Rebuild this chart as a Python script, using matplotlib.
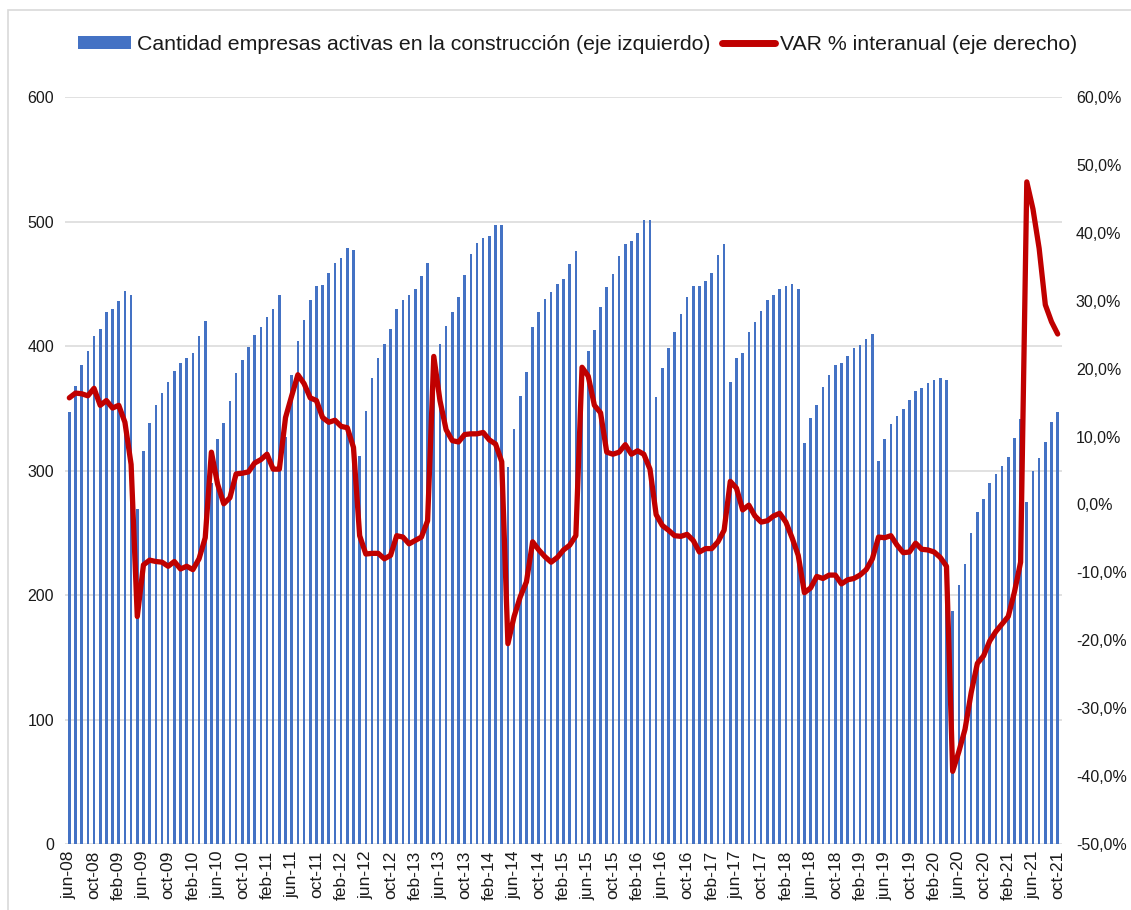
import numpy as np
import matplotlib
matplotlib.use('Agg')
import matplotlib.pyplot as plt
from matplotlib.patches import Patch, Rectangle
from matplotlib.lines import Line2D
from matplotlib.ticker import FuncFormatter

plt.rcParams['font.family'] = ['Liberation Sans', 'DejaVu Sans']

# empresas activas (jun-08 .. oct-21), one value per month
empresas = [
    347, 368, 385, 396, 408, 414, 427, 430, 436, 444, 441,
    269, 316, 338, 353, 362, 371, 380, 386, 390, 394, 408, 420,
    290, 325, 338, 356, 378, 389, 399, 409, 415, 423, 430, 441,
    327, 377, 404, 421, 437, 448, 449, 459, 467, 471, 479, 477,
    312, 348, 374, 390, 402, 414, 430, 437, 441, 446, 456, 467,
    380, 402, 416, 427, 439, 457, 474, 483, 487, 488, 497, 497,
    303, 333, 360, 379, 415, 427, 438, 443, 450, 454, 466, 476,
    366, 396, 413, 431, 447, 458, 472, 482, 484, 491, 501, 501,
    359, 382, 398, 411, 426, 439, 448, 448, 452, 459, 473, 482,
    371, 390, 394, 411, 419, 428, 437, 441, 446, 448, 450, 446,
    322, 342, 353, 367, 377, 385, 386, 392, 398, 401, 406, 410,
    308, 325, 337, 344, 349, 357, 364, 366, 370, 373, 374, 373,
    187, 208, 225, 250, 267, 277, 290, 297, 304, 311, 326, 341,
    275, 300, 310, 323, 339, 347,
]

# variacion % interanual
var_pct = [
    15.7, 16.4, 16.3, 16.0, 17.1, 14.6, 15.3, 14.2, 14.6, 12.1, 5.9,
    -16.5, -8.9, -8.2, -8.4, -8.5, -9.1, -8.4, -9.5, -9.1, -9.6, -8.0, -4.9,
    7.7, 3.0, 0.1, 1.0, 4.5, 4.6, 4.8, 6.1, 6.6, 7.4, 5.2, 5.2,
    12.8, 16.0, 19.1, 17.8, 15.7, 15.3, 12.8, 12.1, 12.4, 11.5, 11.3, 8.4,
    -4.6, -7.3, -7.2, -7.2, -8.0, -7.5, -4.6, -4.8, -5.8, -5.3, -4.8, -2.4,
    21.8, 15.3, 11.0, 9.4, 9.2, 10.3, 10.4, 10.4, 10.6, 9.5, 8.9, 6.3,
    -20.5, -16.5, -13.6, -11.4, -5.5, -6.7, -7.7, -8.5, -7.8, -6.7, -6.0, -4.6,
    20.2, 18.9, 14.6, 13.5, 7.7, 7.4, 7.7, 8.8, 7.4, 7.9, 7.4, 5.2,
    -1.5, -3.1, -3.8, -4.6, -4.7, -4.4, -5.3, -7.0, -6.5, -6.5, -5.5, -3.8,
    3.4, 2.4, -0.8, -0.1, -1.7, -2.6, -2.4, -1.7, -1.3, -2.6, -4.9, -7.5,
    -13.0, -12.3, -10.6, -10.9, -10.4, -10.4, -11.7, -11.1, -10.9, -10.4, -9.6, -8.0,
    -4.8, -4.9, -4.6, -6.0, -7.1, -7.0, -5.7, -6.6, -6.7, -7.0, -7.8, -9.1,
    -39.3, -36.4, -33.1, -27.7, -23.4, -22.3, -20.1, -18.7, -17.6, -16.5, -12.9, -8.5,
    47.5, 43.5, 37.7, 29.4, 26.9, 25.1,
]

tick_labels = [
    'jun-08', 'oct-08', 'feb-09', 'jun-09', 'oct-09', 'feb-10', 'jun-10', 'oct-10',
    'feb-11', 'jun-11', 'oct-11', 'feb-12', 'jun-12', 'oct-12', 'feb-13', 'jun-13',
    'oct-13', 'feb-14', 'jun-14', 'oct-14', 'feb-15', 'jun-15', 'oct-15', 'feb-16',
    'jun-16', 'oct-16', 'feb-17', 'jun-17', 'oct-17', 'feb-18', 'jun-18', 'oct-18',
    'feb-19', 'jun-19', 'oct-19', 'feb-20', 'jun-20', 'oct-20', 'feb-21', 'jun-21',
    'oct-21',
]

bar_color = '#4472C4'
line_color = '#C00000'
text_color = '#1a1a1a'

x = np.arange(len(empresas))

fig = plt.figure(figsize=(11.31, 9.10), dpi=100)
ax = fig.add_axes([65 / 1131, 66 / 910, (1062 - 65) / 1131, (844 - 97) / 910])

ax.bar(x, empresas, width=0.42, color=bar_color, zorder=2)
ax.set_ylim(0, 600)
ax.set_yticks(range(0, 601, 100))
ax.set_xlim(-0.7, 160.7)
ax.grid(axis='y', color='#d9d9d9', lw=1.1, zorder=0)
ax.set_axisbelow(True)
for s in ax.spines.values():
    s.set_visible(False)
ax.tick_params(axis='y', length=0, labelsize=11.5, colors=text_color, pad=8)
ax.tick_params(axis='x', length=0, labelsize=12.5, colors=text_color, pad=5)
ax.set_xticks(x[::4])
ax.set_xticklabels(tick_labels, rotation=90)

ax2 = ax.twinx()
ax2.plot(x, var_pct, color=line_color, lw=3.8, solid_joinstyle='round',
         solid_capstyle='round', zorder=3)
ax2.set_ylim(-50, 60)
ax2.set_yticks(range(-50, 61, 10))
ax2.yaxis.set_major_formatter(FuncFormatter(lambda v, p: f'{v:.1f}%'.replace('.', ',')))
for s in ax2.spines.values():
    s.set_visible(False)
ax2.tick_params(axis='y', length=0, labelsize=11.5, colors=text_color, pad=10)

handles = [Patch(facecolor=bar_color, edgecolor='none'),
           Line2D([0], [0], color=line_color, lw=5, solid_capstyle='round')]
labels = ['Cantidad empresas activas en la construcción (eje izquierdo)',
          'VAR % interanual (eje derecho)']
fig.legend(handles, labels, loc='center', bbox_to_anchor=(0.511, 0.951), ncol=2,
           frameon=False, fontsize=15.3, handlelength=2.5, handleheight=0.58,
           handletextpad=0.25, columnspacing=0.55, labelcolor=text_color)

# light frame around the chart
fig.patches.append(Rectangle((8 / 1131, -0.1), 1.2, 1 - 10 / 910 + 0.1,
                             transform=fig.transFigure, fill=False,
                             edgecolor='#d9d9d9', lw=1.2))

fig.savefig('out.png', dpi=100)
